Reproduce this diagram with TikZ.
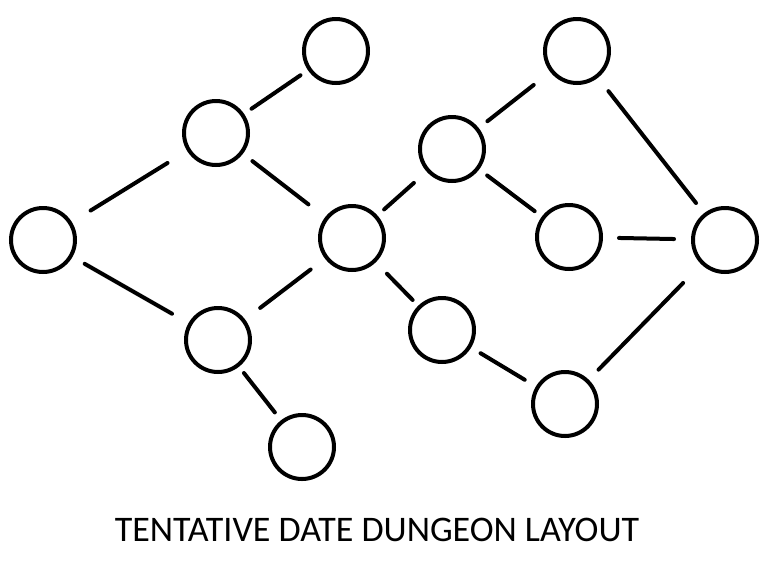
\documentclass[tikz,border=0pt]{standalone}
\usepackage{fontspec}
\setmainfont{Carlito}
\usepackage{tikz}
\usetikzlibrary{calc}

\tikzset{room/.style={draw, circle, line width=4pt, minimum size=64pt, inner sep=0pt},
  link/.style={line width=4pt, line cap=round}}

\begin{document}
\begin{tikzpicture}[x=1pt, y=-1pt]
  \useasboundingbox (0,0) rectangle (781,579);
  \node[room] (0) at (43,240) {};
  \node[room] (1) at (216,133) {};
  \node[room] (2) at (336,51) {};
  \node[room] (3) at (218,340) {};
  \node[room] (4) at (302,447) {};
  \node[room] (5) at (352,238) {};
  \node[room] (6) at (452,149) {};
  \node[room] (7) at (577,51) {};
  \node[room] (8) at (569,237) {};
  \node[room] (9) at (725,240) {};
  \node[room] (10) at (442,330) {};
  \node[room] (11) at (565,404) {};
  \draw[link, shorten <=22pt, shorten >=23pt] (0)--(1);
  \draw[link, shorten <=14pt, shorten >=19pt] (0)--(3);
  \draw[link, shorten <=9pt, shorten >=9pt] (1)--(2);
  \draw[link, shorten <=12pt, shorten >=21pt] (1)--(5);
  \draw[link, shorten <=19pt, shorten >=18pt] (3)--(5);
  \draw[link, shorten <=8pt, shorten >=10pt] (3)--(4);
  \draw[link, shorten <=9pt, shorten >=17pt] (5)--(6);
  \draw[link, shorten <=16pt, shorten >=8pt] (5)--(10);
  \draw[link, shorten <=11pt, shorten >=21pt] (6)--(7);
  \draw[link, shorten <=10pt, shorten >=9pt] (6)--(8);
  \draw[link, shorten <=16pt, shorten >=17pt] (8)--(9);
  \draw[link, shorten <=17pt, shorten >=13pt] (7)--(9);
  \draw[link, shorten <=11pt, shorten >=13pt] (10)--(11);
  \draw[link, shorten <=14pt, shorten >=26pt] (11)--(9);
  \node[anchor=base, font=\fontsize{36pt}{40pt}\selectfont] (title) at (377,541) {TENTATIVE DATE DUNGEON LAYOUT};
\end{tikzpicture}
\end{document}
